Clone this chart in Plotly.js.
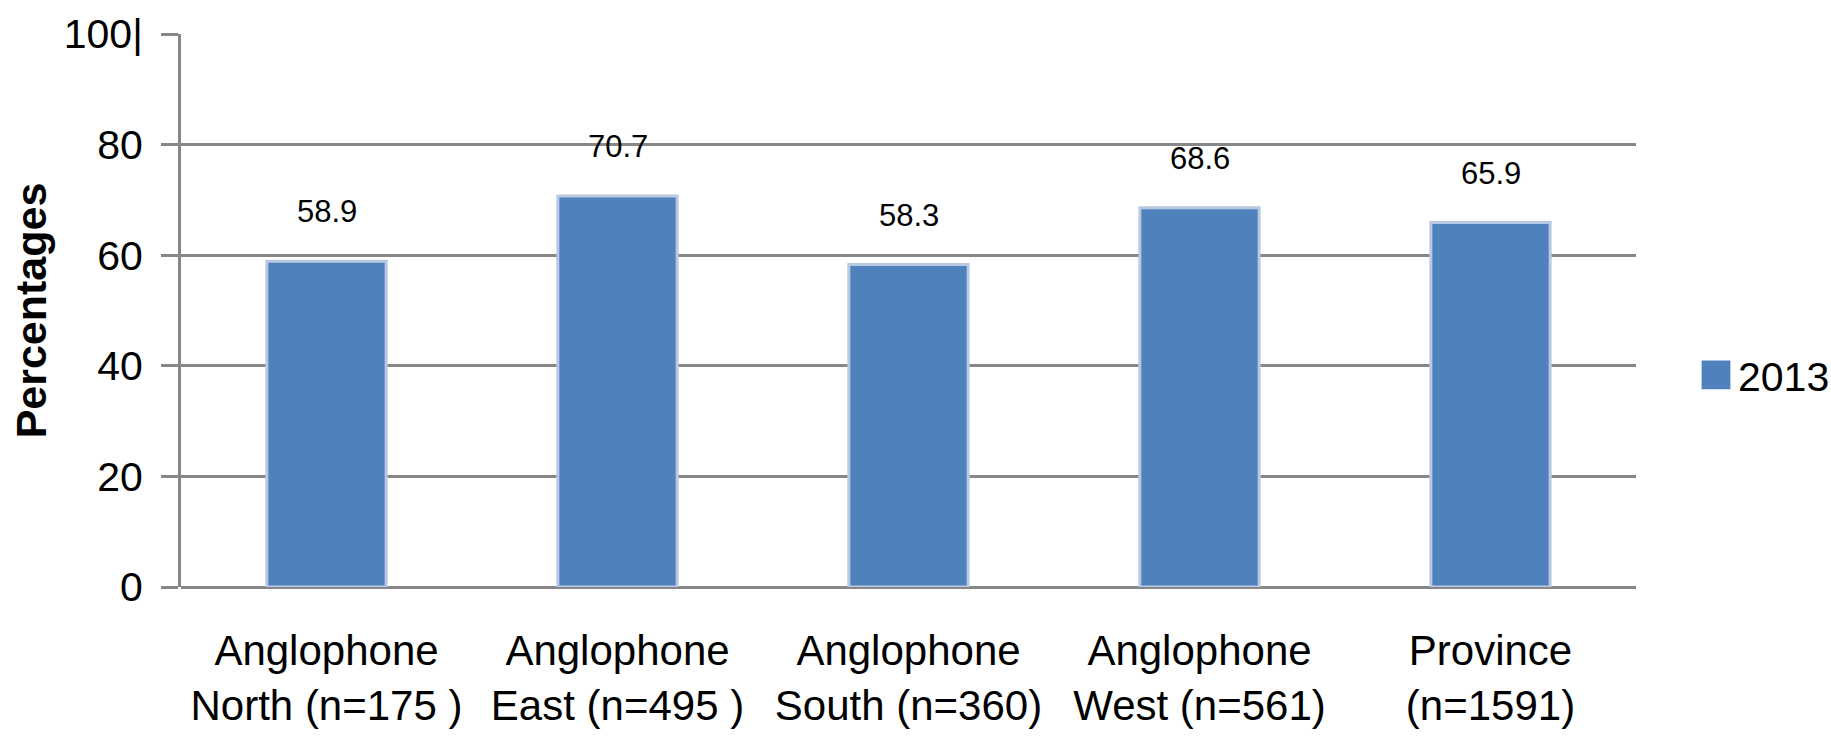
<!DOCTYPE html>
<html>
<head>
<meta charset="utf-8">
<script src="https://cdn.plot.ly/plotly-3.0.1.min.js"></script>
<style>
html,body{margin:0;padding:0;background:#fff;}
#chart{width:1831px;height:737px;}
#chart .legendpoints path{transform:translate(18px,0px) scale(2.4);stroke-width:0 !important;}
</style>
</head>
<body>
<div id="chart"></div>
<script>
var categories = ['Anglophone<br>North (n=175 )', 'Anglophone<br>East (n=495 )', 'Anglophone<br>South (n=360)', 'Anglophone<br>West (n=561)', 'Province<br>(n=1591)'];
var values2013 = [58.9, 70.7, 58.3, 68.6, 65.9];
var valueLabels = ['58.9', '70.7', '58.3', '68.6', '65.9'];
var seriesName = '2013';
var yTickVals = [0, 20, 40, 60, 80, 100];
var yTickText = ['0', '20', '40', '60', '80', '100|'];

var FONT = '"Liberation Sans", Arial, sans-serif';
var barColor = '#4f81bd';
var gridColor = '#878787';

var trace = {
  type: 'bar',
  x: categories,
  y: values2013,
  name: seriesName,
  marker: {color: barColor, line: {color: '#b9c9e2', width: 3}},
  hoverinfo: 'x+y'
};

var annotations = categories.map(function (c, i) {
  return {
    x: c, y: values2013[i], xref: 'x', yref: 'y',
    text: valueLabels[i], showarrow: false,
    yanchor: 'bottom', yshift: 30,
    font: {family: FONT, size: 31, color: '#000'}
  };
});

var layout = {
  width: 1831, height: 737,
  margin: {l: 181, r: 195, t: 34, b: 150, autoexpand: false},
  paper_bgcolor: '#fff', plot_bgcolor: '#fff',
  font: {family: FONT, color: '#000'},
  bargap: 0.59,
  showlegend: true,
  legend: {
    x: 1.0426, xanchor: 'left', y: 0.383, yanchor: 'middle',
    font: {family: FONT, size: 41, color: '#000'},
    bgcolor: 'rgba(0,0,0,0)'
  },
  xaxis: {
    type: 'category',
    showgrid: false, zeroline: false,
    showline: false, ticks: '',
    tickfont: {family: FONT, size: 42, color: '#000'},
    ticklabelstandoff: 35
  },
  yaxis: {
    range: [0, 100],
    tickvals: yTickVals, ticktext: yTickText,
    showgrid: true, gridcolor: gridColor, gridwidth: 3,
    zeroline: true, zerolinecolor: gridColor, zerolinewidth: 3,
    showline: true, linecolor: gridColor, linewidth: 3,
    ticks: 'outside', ticklen: 17, tickwidth: 3, tickcolor: gridColor,
    tickfont: {family: FONT, size: 41, color: '#000'},
    ticklabelstandoff: 10,
    title: {text: 'Percentages', font: {family: FONT, size: 43, color: '#000', weight: 'bold'}, standoff: 4}
  },
  annotations: annotations
};

Plotly.newPlot('chart', [trace], layout, {displayModeBar: false, staticPlot: true});
</script>
</body>
</html>
